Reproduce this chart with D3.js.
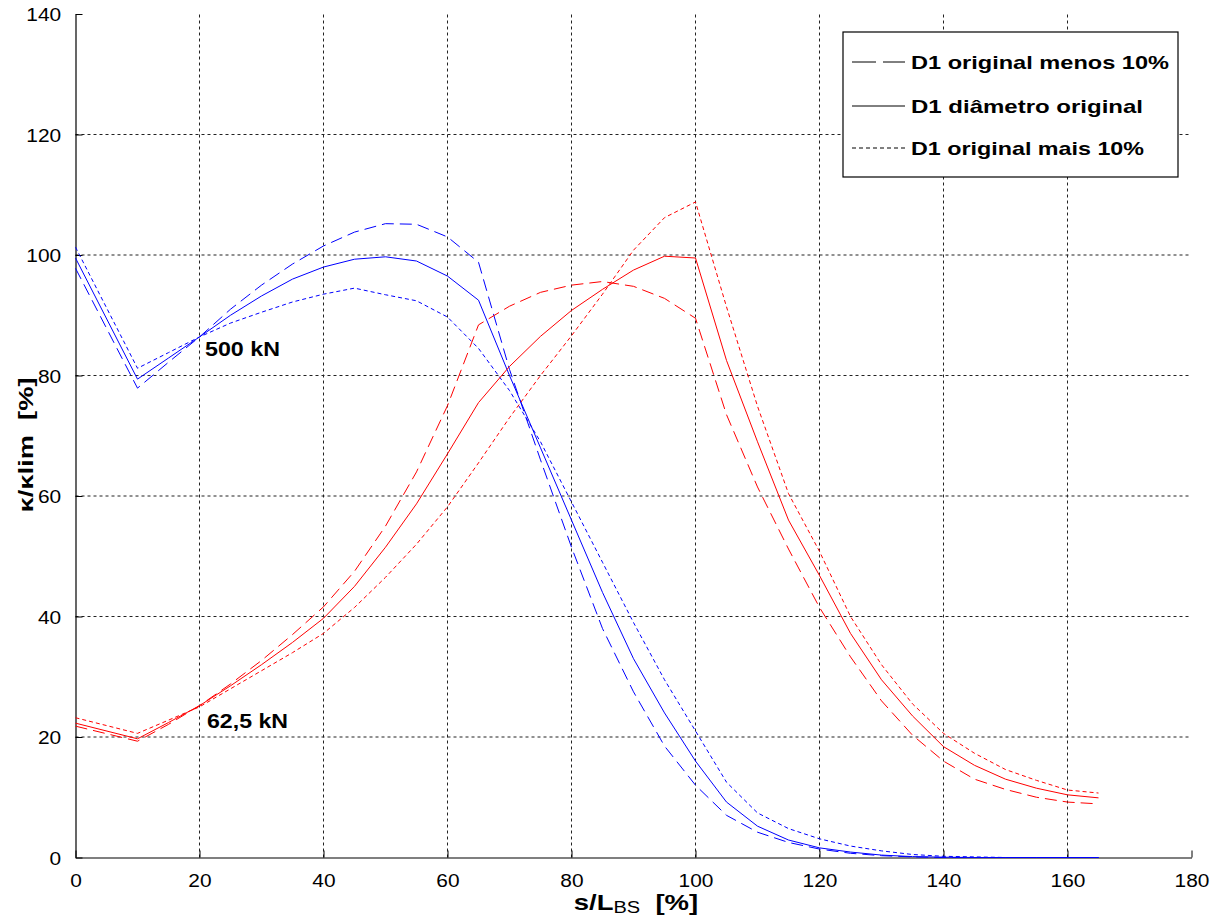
<!DOCTYPE html>
<html><head><meta charset="utf-8">
<script src="https://cdn.jsdelivr.net/npm/d3@7"></script>
<style>
body{margin:0;background:#fff;}
svg{display:block;}
text{font-family:"Liberation Sans", Arial, Helvetica, sans-serif;fill:#000;}
</style>
</head><body>
<svg id="c" width="1222" height="918"></svg>
<script>
// ---- data ----
const sPercent = [0,10,15,20,25,30,35,40,45,50,55,60,65,70,75,80,85,90,95,100,105,110,115,120,125,130,135,140,145,150,155,160,165];

// 500 kN (blue)
const blueMinus10 = [97.8,77.9,82.2,86.4,91,95,98.5,101.5,103.8,105.2,105.1,103,98.8,81,66,51.5,38,27.5,18.5,12,7,4.2,2.5,1.4,0.7,0.3,0.1,0,0,0,0,0,0];
const blueOrig    = [99.5,79.4,82.9,86.4,90,93.2,96,98,99.3,99.7,99,96.5,92.5,80,68,56,44,33,24,16,9.2,5.2,2.9,1.6,0.9,0.4,0.15,0.05,0,0,0,0,0];
const bluePlus10  = [101.3,81.2,83.8,86.4,88.7,90.5,92.2,93.5,94.5,93.4,92.4,89.7,84.5,77.5,69,59,49,39,29.5,21,12.5,7.4,4.8,3.1,1.9,1.1,0.5,0.2,0.1,0,0,0,0];

// 62,5 kN (red)
const redMinus10 = [21.8,19.3,22.1,25.2,28.8,32.7,37,41.6,47.5,55,64,75,88.4,91.5,93.8,95,95.6,94.8,92.8,89.5,73.5,61.5,51.2,41.5,33.3,26,20.3,16,13,11.3,10,9.2,8.9];
const redOrig    = [22.3,19.7,22.4,25.2,28.5,32,35.7,39.7,45,51.5,58.7,67,75.5,81.5,86.5,90.8,94.3,97.5,99.8,99.5,82.5,69,56,46.8,37.2,29.5,23.5,18.4,15.3,13,11.5,10.4,9.9];
const redPlus10  = [23.2,20.6,22.8,25,28,31,34,37.2,41.5,46.5,52,58.2,65.5,73,80,86.6,93.5,100.8,106.2,108.8,91.4,74.9,60.4,50.8,40,32,25.5,20.6,17.3,14.6,12.8,11.2,10.7];

const xTicks = [0,20,40,60,80,100,120,140,160,180];
const yTicks = [0,20,40,60,80,100,120,140];
const legendLabels = ["D1 original menos 10%","D1 diâmetro original","D1 original mais 10%"];
const curveLabels = ["500 kN","62,5 kN"];

// ---- layout ----
const svg = d3.select("#c");
const X0 = 75.5, X1 = 1191.5, Y0 = 857.5, Y1 = 14;
const x = d3.scaleLinear().domain([0,180]).range([X0,X1]);
const y = d3.scaleLinear().domain([0,140]).range([Y0,Y1]);

const dashStyles = {minus:"12,6", orig:null, plus:"4,3"};

// grid
const grid = svg.append("g");
xTicks.slice(1,-1).forEach(t=>{
  grid.append("line").attr("x1",x(t)).attr("x2",x(t)).attr("y1",Y0).attr("y2",Y1)
    .attr("stroke","#222").attr("stroke-width",1).attr("stroke-dasharray","3,3");
});
yTicks.slice(1,-1).forEach(t=>{
  grid.append("line").attr("x1",X0).attr("x2",X1).attr("y1",y(t)).attr("y2",y(t))
    .attr("stroke","#222").attr("stroke-width",1).attr("stroke-dasharray","3,3");
});

// axes
const xAxis = d3.axisBottom(x).tickValues(xTicks).tickSizeInner(-7).tickSizeOuter(0).tickPadding(16).tickFormat(d3.format("d"));
const yAxis = d3.axisLeft(y).tickValues(yTicks).tickSizeInner(-7).tickSizeOuter(0).tickPadding(13).tickFormat(d3.format("d"));
const gx = svg.append("g").attr("transform",`translate(0,${Y0})`).call(xAxis);
const gy = svg.append("g").attr("transform",`translate(${X0},0)`).call(yAxis);
[gx,gy].forEach(g=>{
  g.select(".domain").attr("stroke","#000").attr("stroke-width",1.2);
  g.selectAll(".tick line").attr("stroke","#000");
  g.selectAll(".tick text").attr("font-size",19).attr("fill","#000")
   .attr("font-family","Liberation Sans, Arial, sans-serif")
   .attr("transform","scale(1.1,1)");
});
gy.selectAll(".tick text").attr("dy","0.36em");

// curves
const line = d3.line().x(d=>x(d[0])).y(d=>y(d[1]));
const series = [
  {vals:blueMinus10,color:"#0000ff",dash:dashStyles.minus},
  {vals:blueOrig,color:"#0000ff",dash:dashStyles.orig},
  {vals:bluePlus10,color:"#0000ff",dash:dashStyles.plus},
  {vals:redMinus10,color:"#ff0000",dash:dashStyles.minus},
  {vals:redOrig,color:"#ff0000",dash:dashStyles.orig},
  {vals:redPlus10,color:"#ff0000",dash:dashStyles.plus}
];
const curves = svg.append("g");
series.forEach(s=>{
  curves.append("path")
    .datum(sPercent.map((v,i)=>[v,s.vals[i]]))
    .attr("d",line).attr("fill","none").attr("stroke",s.color)
    .attr("stroke-width",1).attr("stroke-dasharray",s.dash);
});

// curve labels
svg.append("text").attr("x",205).attr("y",356).attr("font-size",20).attr("font-weight","bold")
  .attr("textLength",75).attr("lengthAdjust","spacingAndGlyphs").text(curveLabels[0]);
svg.append("text").attr("x",207).attr("y",728).attr("font-size",20).attr("font-weight","bold")
  .attr("textLength",81).attr("lengthAdjust","spacingAndGlyphs").text(curveLabels[1]);

// axis titles
const xt = svg.append("g").attr("transform","translate(636,910) scale(1.25,1)")
  .append("text").attr("x",0).attr("y",0).attr("text-anchor","middle")
  .attr("font-size",22).attr("font-weight","bold");
xt.append("tspan").text("s/L");
xt.append("tspan").attr("font-size",16).attr("font-weight","normal").attr("dy",3).text("BS");
xt.append("tspan").attr("dy",-3).text("\u00a0\u00a0[%]");

svg.append("g").attr("transform","translate(33,445) rotate(-90) scale(1.3,1)")
  .append("text").attr("text-anchor","middle")
  .attr("font-size",21).attr("font-weight","bold").text("\u03ba/\u03balim\u00a0\u00a0[%]");

// legend
const lg = svg.append("g");
lg.append("rect").attr("x",843).attr("y",32).attr("width",335).attr("height",145)
  .attr("fill","#fff").attr("stroke","#000").attr("stroke-width",1.2);
const rowsY = [62,106,148];
const legDash = ["24,7",null,"4,3"];
const legLen = [258,232,233];
legendLabels.forEach((lab,i)=>{
  lg.append("line").attr("x1",852).attr("x2",905).attr("y1",rowsY[i]).attr("y2",rowsY[i])
    .attr("stroke","#000").attr("stroke-width",1).attr("stroke-dasharray",legDash[i]);
  lg.append("text").attr("x",911).attr("y",rowsY[i]+7).attr("font-size",19).attr("font-weight","bold")
    .attr("textLength",legLen[i]).attr("lengthAdjust","spacingAndGlyphs").text(lab);
});
</script>
</body></html>
